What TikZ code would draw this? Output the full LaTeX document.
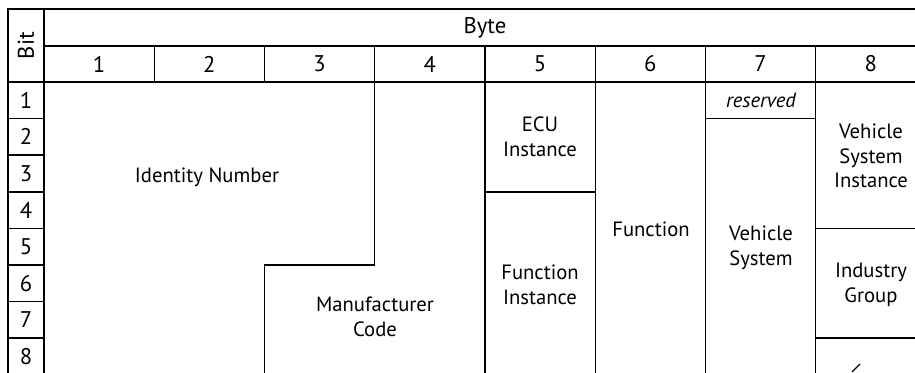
\documentclass[tikz,border=0pt]{standalone}
\usepackage{fontspec}
\setmainfont{PT Sans}
\usepackage{tikz}
\usetikzlibrary{positioning}

\tikzset{
  grid line/.style={line width=1.1pt, line cap=rect},
  field label/.style={align=center, inner sep=0.75pt, font=\fontsize{15.5}{18.5}\selectfont},
  index label/.style={inner sep=0.75pt, font=\fontsize{17}{19}\selectfont}
}

\begin{document}
\begin{tikzpicture}[x=0.75pt,y=0.75pt,yscale=-1,xscale=1]
\useasboundingbox (0,0) rectangle (915,372);
\clip (0,0) rectangle (915,372);

%Header frame
\draw [grid line]  (8,9) -- (926,9) ;
\draw [grid line]  (8,9) -- (8,380) ;
\draw [grid line]  (44,9) -- (44,380) ;
\draw [grid line]  (44,46) -- (926,46) ;
\draw [grid line]  (8,82) -- (926,82) ;
\draw [grid line]  (926,9) -- (926,380) ;
%Byte number separators
\draw [grid line]  (154.25,46) -- (154.25,82) ;
\draw [grid line]  (264.5,46) -- (264.5,82) ;
\draw [grid line]  (374.75,46) -- (374.75,82) ;
\draw [grid line]  (485,46) -- (485,380) ;
\draw [grid line]  (595.25,46) -- (595.25,380) ;
\draw [grid line]  (705.5,46) -- (705.5,380) ;
\draw [grid line]  (815.75,46) -- (815.75,380) ;
%Bit number separators
\draw [grid line]  (8,118.6) -- (44,118.6) ;
\draw [grid line]  (8,155.2) -- (44,155.2) ;
\draw [grid line]  (8,191.8) -- (44,191.8) ;
\draw [grid line]  (8,228.4) -- (44,228.4) ;
\draw [grid line]  (8,265) -- (44,265) ;
\draw [grid line]  (8,301.6) -- (44,301.6) ;
\draw [grid line]  (8,338.2) -- (44,338.2) ;
%Manufacturer Code step
\draw [grid line]  (374.75,82) -- (374.75,265) -- (264.5,265) -- (264.5,380) ;
%ECU Instance bottom
\draw [grid line]  (485,191.8) -- (595.25,191.8) ;
%reserved bottom
\draw [grid line]  (705.5,118.6) -- (815.75,118.6) ;
%Vehicle System Instance bottom
\draw [grid line]  (815.75,228.4) -- (926,228.4) ;
%Industry Group bottom
\draw [grid line]  (815.75,338.2) -- (926,338.2) ;
%Cut-off mark in bit 8
\draw [line width=1pt]  (852,372) -- (860,364) ;

% Text Node
\draw (26,45.5) node [index label, rotate=90] (bit) {Bit};
% Text Node
\draw (485,27.5) node [index label] (byte) {Byte};
% Text Node
\draw (99.1,64) node [index label] (b1) {1};
\draw (209.4,64) node [index label] (b2) {2};
\draw (319.6,64) node [index label] (b3) {3};
\draw (429.9,64) node [index label] (b4) {4};
\draw (540.1,64) node [index label] (b5) {5};
\draw (650.4,64) node [index label] (b6) {6};
\draw (760.6,64) node [index label] (b7) {7};
\draw (870.9,64) node [index label] (b8) {8};
% Text Node
\draw (26,100.3) node [index label] (r1) {1};
\draw (26,136.9) node [index label] (r2) {2};
\draw (26,173.5) node [index label] (r3) {3};
\draw (26,210.1) node [index label] (r4) {4};
\draw (26,246.7) node [index label] (r5) {5};
\draw (26,283.3) node [index label] (r6) {6};
\draw (26,319.9) node [index label] (r7) {7};
\draw (26,356.5) node [index label] (r8) {8};
% Text Node
\draw (207,177) node [field label] (ident) {Identity Number};
% Text Node
\draw (375,317) node [field label] (manuf) {Manufacturer\\Code};
% Text Node
\draw (540,137) node [field label] (ecu) {ECU\\Instance};
% Text Node
\draw (540,285) node [field label] (finst) {Function\\Instance};
% Text Node
\draw (651,229) node [field label] (func) {Function};
% Text Node
\draw (761,100) node [field label, font=\fontsize{15.5}{18.5}\selectfont\itshape] (resv) {reserved};
% Text Node
\draw (761,248) node [field label] (vsys) {Vehicle\\System};
% Text Node
\draw (871,156) node [field label] (vsinst) {Vehicle\\System\\Instance};
% Text Node
\draw (871,285) node [field label] (indgrp) {Industry\\Group};

\end{tikzpicture}
\end{document}
